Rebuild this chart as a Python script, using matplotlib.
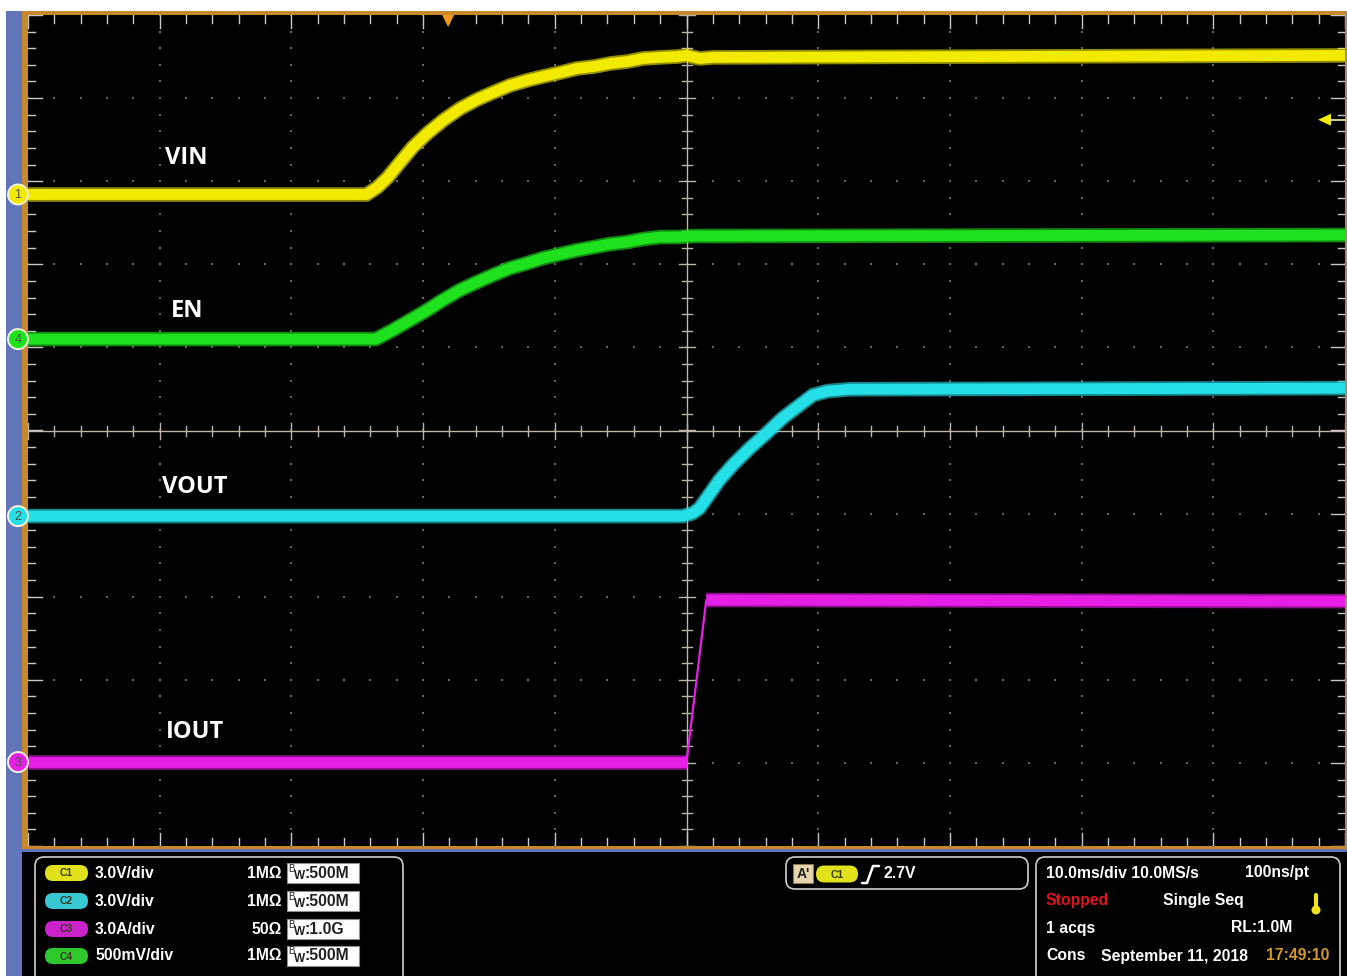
import matplotlib
matplotlib.use('Agg')
import matplotlib.pyplot as plt
import numpy as np
from matplotlib.patches import Rectangle, FancyBboxPatch, Circle, Polygon
import matplotlib.patheffects as pe

vin_t = [-50, -24.3, -23.5, -22.7, -21.75, -20.8, -19.7, -18.5, -17.2, -15.9, -14.7,
         -13.4, -12.1, -10.9, -9.6, -8.3, -7.0, -5.8, -4.5, -3.3, -2.0, -0.7, 0.0,
         1.0, 2.0, 50]
vin_v = [0, 0, 0.25, 0.61, 1.16, 1.70, 2.20, 2.67, 3.10, 3.43, 3.68,
         3.94, 4.12, 4.26, 4.40, 4.55, 4.62, 4.73, 4.80, 4.91, 4.95, 4.98, 5.02,
         4.91, 4.95, 5.02]

en_t = [-50, -23.6, -22.3, -21.0, -19.7, -18.5, -17.2, -15.9, -14.7, -13.4, -12.1,
        -10.9, -9.6, -8.3, -7.0, -5.8, -4.5, -3.3, -2.0, -0.7, 0.5, 50]
en_v = [0, 0, 0.054, 0.114, 0.174, 0.235, 0.295, 0.343, 0.385, 0.427, 0.457,
        0.487, 0.511, 0.535, 0.554, 0.572, 0.584, 0.602, 0.614, 0.614, 0.620, 0.626]

vout_t = [-50, -0.27, 0.49, 1.0, 1.8, 2.5, 3.5, 4.8, 6.1, 7.3, 8.6, 9.6, 10.7, 12.4, 50]
vout_v = [0, 0, 0.11, 0.29, 0.83, 1.30, 1.84, 2.45, 3.00, 3.54, 4.01, 4.37, 4.51, 4.58, 4.62]

iout_t = [-50, 0.0, 1.5, 50]
iout_a = [0, 0, 5.85, 5.81]

channel_names = ['VIN', 'EN', 'VOUT', 'IOUT']
channel_nums = ['1', '4', '2', '3']
channel_scale = [3.0, 0.5, 3.0, 3.0]          # units / div
channel_offset = [2.84, 1.10, -1.03, -3.99]    # divisions

trigger_level_v = 2.7
trigger_time_ms = -18.1

legend_pills = ['C1', 'C2', 'C3', 'C4']
legend_scales = ['3.0V/div', '3.0V/div', '3.0A/div', '500mV/div']
legend_imped = ['1M\u03a9', '1M\u03a9', '50\u03a9', '1M\u03a9']
legend_bw = [':500M', ':500M', ':1.0G', ':500M']

# ---------------- style ----------------
W, H = 1347, 976
YEL, GRN, CYN, MAG = '#f2ea00', '#1fe21f', '#26e0e8', '#e61ee6'
trace_colors = [YEL, GRN, CYN, MAG]
pill_colors = ['#e2e21c', '#38c8d4', '#cc22cc', '#2cc82c']
ORANGE = '#c8882c'
BLUE = '#6275b9'
FONT = 'Liberation Sans'

X0, X1, Y0, Y1 = 28, 1345, 15, 846  # plot area in pixels
xpx = (X1 - X0) / 100.0   # px per ms
ypx = (Y1 - Y0) / 10.0    # px per div
cy = (Y0 + Y1) / 2.0

fig = plt.figure(figsize=(W / 100, H / 100), dpi=100, facecolor='white')

# ---------- background overlay (pixel coordinates) ----------
bg = fig.add_axes([0, 0, 1, 1], zorder=0)
bg.set_xlim(0, W); bg.set_ylim(H, 0); bg.axis('off')
bg.add_patch(Rectangle((6, 11), 16, H, color=BLUE, lw=0))
bg.add_patch(Rectangle((22, 11), W - 22, 839, color=ORANGE, lw=0))
bg.add_patch(Rectangle((22, 849), W - 22, 3, color=BLUE, lw=0))
bg.add_patch(Rectangle((22, 852), W - 22, H, color='black', lw=0))
bg.add_patch(Rectangle((1345, 11), 2, 839, color='#a88a60', lw=0))

# ---------- main scope axes ----------
ax = fig.add_axes([X0 / W, (H - Y1) / H, (X1 - X0) / W, (Y1 - Y0) / H], zorder=1)
ax.set_facecolor('black')
ax.set_xlim(-50, 50); ax.set_ylim(-5, 5)
ax.set_xticks([]); ax.set_yticks([])
for s in ax.spines.values():
    s.set_visible(False)

px_x = 100.0 / (X1 - X0)   # ms per px
px_y = 10.0 / (Y1 - Y0)    # div per px
GRID = '#666666'
TICK = '#bdb6a8'

# dotted graticule
minor_x = np.arange(-50, 50.01, 2.0)
minor_y = np.arange(-5, 5.01, 0.2)
for xv in [-40, -30, -20, -10, 10, 20, 30, 40]:
    ax.plot(np.full_like(minor_y, xv), minor_y, ls='none', marker='s', ms=1.6,
            color=GRID, mew=0, zorder=1)
for yv in [-4, -3, -2, -1, 1, 2, 3, 4]:
    ax.plot(minor_x, np.full_like(minor_x, yv), ls='none', marker='s', ms=1.6,
            color=GRID, mew=0, zorder=1)

# center crosshair
ax.axhline(0, color=TICK, lw=1.0, zorder=1)
ax.axvline(0, color=TICK, lw=1.0, zorder=1)
for xv in minor_x:
    L = (8 if abs(xv % 10) < 1e-6 else 5) * px_y
    ax.plot([xv, xv], [-L, L], color=TICK, lw=1.0, zorder=1)
    L2 = (13 if abs(xv % 10) < 1e-6 else 8) * px_y
    ax.plot([xv, xv], [5, 5 - L2], color='#c8c8c8', lw=1.0, zorder=1)
    ax.plot([xv, xv], [-5, -5 + L2], color='#c8c8c8', lw=1.0, zorder=1)
for yv in minor_y:
    major = abs(round(yv) - yv) < 1e-6
    L = (8 if major else 5) * px_x
    ax.plot([-L, L], [yv, yv], color=TICK, lw=1.0, zorder=1)
    L2 = (14 if major else 7) * px_x
    ax.plot([-50, -50 + L2], [yv, yv], color='#c8c8c8', lw=1.0, zorder=1)
    ax.plot([50, 50 - L2], [yv, yv], color='#c8c8c8', lw=1.0, zorder=1)

# traces
series = [(vin_t, vin_v), (en_t, en_v), (vout_t, vout_v)]
fuzz = [pe.Stroke(linewidth=10.5, alpha=0.6), pe.Normal()]
for i, (t, v) in enumerate(series):
    y = np.asarray(v) / channel_scale[i] + channel_offset[i]
    ax.plot(t, y, color=trace_colors[i], lw=7.8, solid_capstyle='butt',
            solid_joinstyle='round', path_effects=fuzz, zorder=3)

iy = np.asarray(iout_a) / channel_scale[3] + channel_offset[3]
ax.plot(iout_t, iy, color=MAG, lw=1.6, zorder=3)
ax.plot(iout_t[:2], iy[:2], color=MAG, lw=7.8, solid_capstyle='butt',
        path_effects=fuzz, zorder=3)
ax.plot(iout_t[2:], iy[2:], color=MAG, lw=7.8, solid_capstyle='butt',
        path_effects=fuzz, zorder=3)

# ---------- foreground overlay ----------
fg = fig.add_axes([0, 0, 1, 1], zorder=2)
fg.set_xlim(0, W); fg.set_ylim(H, 0); fg.axis('off')
fg.patch.set_alpha(0)

def ypix(div):
    return cy - div * ypx

def xpix(ms):
    return X0 + (ms + 50) * xpx

# channel ground markers
for i in range(4):
    yy = ypix(channel_offset[i])
    fg.add_patch(Circle((18, yy), 10, facecolor=trace_colors[i],
                        edgecolor='#f4f2d8', lw=1.4, zorder=5))
    fg.text(18, yy + 0.5, channel_nums[i], ha='center', va='center', fontsize=9,
            color='#505050', family=FONT, zorder=6)

# trace labels
label_pos = [(186, 158), (187, 311), (195, 487), (195, 732)]
for name, (lx, ly) in zip(channel_names, label_pos):
    fg.text(lx, ly, name, ha='center', va='center', fontsize=17, color='white',
            fontweight='bold', family='Open Sans', zorder=6)

# trigger time marker (top)
tx = xpix(trigger_time_ms)
fg.add_patch(Polygon([[tx - 6, 15], [tx + 6, 15], [tx, 27]], closed=True,
                     color='#f29a1c', lw=0, zorder=6))
# trigger level marker (right)
ty = ypix(trigger_level_v / channel_scale[0] + channel_offset[0])
fg.add_patch(Polygon([[1318, ty], [1331, ty - 6], [1331, ty + 6]], closed=True,
                     color=YEL, lw=0, zorder=6))
fg.plot([1330, 1345], [ty, ty], color='#f6f0a0', lw=1.2, zorder=6)

# ---------- bottom info panel ----------
def rbox(x0, y0, x1, y1, r=9):
    fg.add_patch(FancyBboxPatch((x0, y0), x1 - x0, y1 - y0,
                                boxstyle='round,pad=0,rounding_size=%g' % r,
                                facecolor='black', edgecolor='#cfcfcf', lw=1.2, zorder=3))

rbox(35, 857, 403, 995)
rbox(786, 857, 1028, 889)
rbox(1036, 857, 1340, 995)

def pill(x0, yc, color, txt, w=43, h=16):
    fg.add_patch(FancyBboxPatch((x0, yc - h / 2), w, h,
                                boxstyle='round,pad=0,rounding_size=%g' % (h / 2),
                                facecolor=color, edgecolor='none', zorder=4))
    fg.text(x0 + w / 2, yc + 0.5, txt, ha='center', va='center', fontsize=7.5,
            fontweight='bold', color='#3a3a20', family=FONT, zorder=5)

TXT = dict(fontsize=11.3, fontweight='bold', color='white', family=FONT,
           va='center', zorder=5)
rows = [873, 901, 929, 956]
for i, yr in enumerate(rows):
    pill(45, yr, pill_colors[i], legend_pills[i])
    fg.text(95, yr, legend_scales[i], ha='left', **TXT)
    fg.text(282, yr, legend_imped[i], ha='right', **TXT)
    fg.add_patch(Rectangle((287, yr - 10), 72, 20, facecolor='white',
                           edgecolor='#909090', lw=0.8, zorder=4))
    fg.text(288, yr - 4.5, 'B', ha='left', va='center', fontsize=7, color='#202020',
            family=FONT, zorder=5)
    fg.text(294, yr + 3, 'W', ha='left', va='center', fontsize=8.5, fontweight='bold',
            color='#202020', family=FONT, zorder=5)
    fg.text(305, yr, legend_bw[i], ha='left', va='center', fontsize=11.3,
            fontweight='bold', color='#202020', family=FONT, zorder=5)

# trigger box
fg.add_patch(Rectangle((793, 864), 20, 19, facecolor='#e6d6b0', edgecolor='#8a7a5a',
                       lw=0.8, zorder=4))
fg.text(803, 874, "A'", ha='center', va='center', fontsize=10, fontweight='bold',
        color='#202020', family=FONT, zorder=5)
pill(816, 874, pill_colors[0], 'C1', w=42, h=17)
fg.plot([862, 867, 873, 879], [883, 883, 866, 866], color='white', lw=1.8,
        zorder=5, solid_capstyle='round')
fg.text(884, 873, '%.1fV' % trigger_level_v, ha='left', **TXT)

# acquisition box
fg.text(1046, 873, '10.0ms/div 10.0MS/s', ha='left', **TXT)
fg.text(1309, 873, '100ns/pt', ha='right', **TXT)
fg.text(1046, 901, 'Stopped', ha='left', **{**TXT, 'color': '#e0141e'})
fg.text(1163, 901, 'Single Seq', ha='left', **TXT)
fg.plot([1316, 1316], [895, 908], color='#f2e21c', lw=3, zorder=5, solid_capstyle='round')
fg.add_patch(Circle((1316, 910), 3.8, color='#f2e21c', zorder=5))
fg.text(1046, 928, '1 acqs', ha='left', **TXT)
fg.text(1292, 928, 'RL:1.0M', ha='right', **TXT)
fg.text(1046, 956, 'Cons', ha='left', **TXT)
fg.text(1101, 956, 'September 11, 2018', ha='left', **TXT)
fg.text(1266, 956, '17:49:10', ha='left', **{**TXT, 'color': '#d29a2a'})

fig.savefig('out.png', dpi=100, facecolor='white')
